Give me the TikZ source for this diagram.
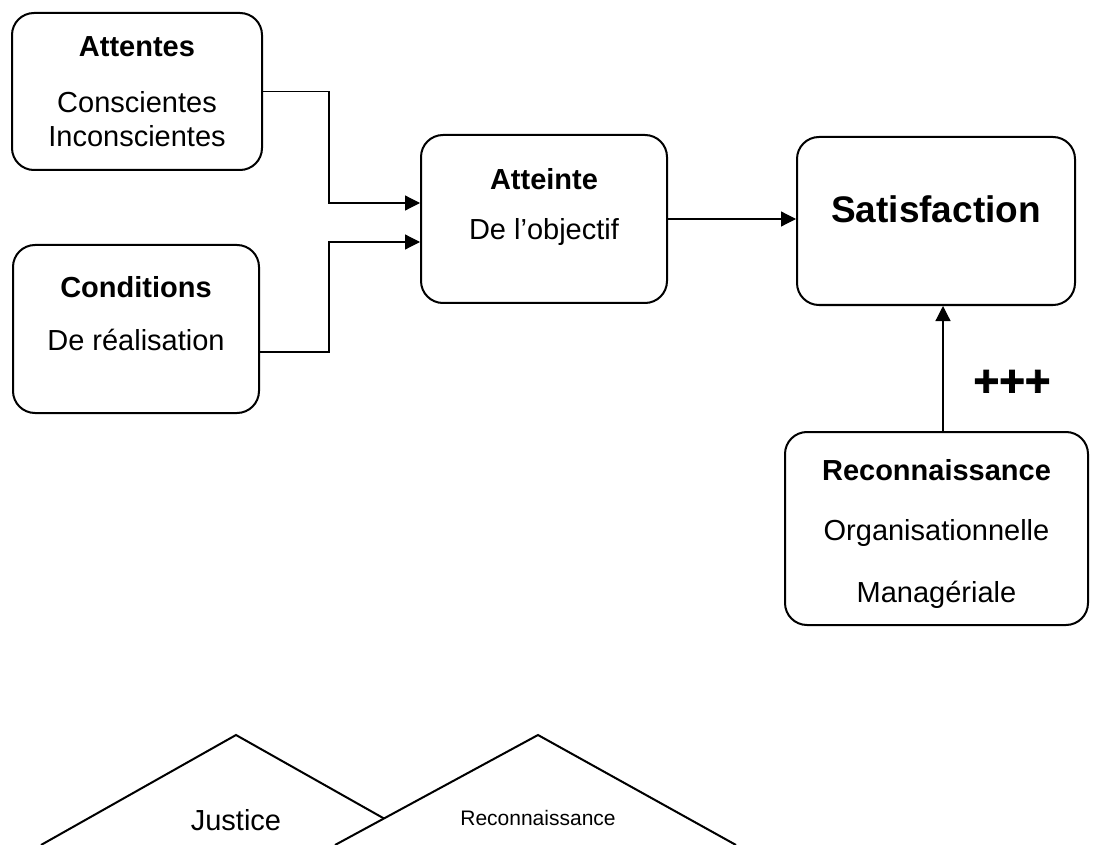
\documentclass[tikz,border=0pt]{standalone}
\usepackage{fontspec}
\setmainfont{Liberation Sans}
\newfontfamily\plusfont[FakeBold=2]{Liberation Sans}
\usetikzlibrary{arrows.meta}

\begin{document}
\begin{tikzpicture}[x=1pt,y=-1pt,
  box/.style={draw,line width=2pt,rounded corners=22pt,inner sep=0pt},
  conn/.style={line width=1.2pt,-{Triangle[length=15pt,width=15pt]}},
  txt/.style={anchor=base,inner sep=0pt,font=\fontsize{29}{34}\selectfont},
  btxt/.style={anchor=base,inner sep=0pt,font=\fontsize{29}{34}\selectfont\bfseries},
  tri/.style={line width=2pt,line join=miter}]
\useasboundingbox (0,0) rectangle (1101,845);

% rounded boxes
\node[box,minimum width=250pt,minimum height=157pt] (att) at (137,91.5) {};
\node[box,minimum width=246pt,minimum height=168pt] (cond) at (136,329) {};
\node[box,minimum width=246pt,minimum height=168pt] (atn) at (544,219) {};
\node[box,minimum width=278pt,minimum height=168pt] (sat) at (936,221) {};
\node[box,minimum width=303pt,minimum height=193pt] (rec) at (936.5,528.5) {};

% box labels
\node[btxt] (attT) at (137,57) {Attentes};
\node[txt] (attA) at (137,113) {Conscientes};
\node[txt] (attB) at (137,147) {Inconscientes};

\node[btxt] (condT) at (136,298) {Conditions};
\node[txt] (condA) at (136,350) {De réalisation};

\node[btxt] (atnT) at (544,190) {Atteinte};
\node[txt] (atnA) at (544,240) {De l’objectif};

\node[anchor=base,inner sep=0pt,font=\fontsize{37}{40}\selectfont\bfseries] (satT) at (936,223) {Satisfaction};

\node[btxt] (recT) at (936.5,480) {Reconnaissance};
\node[txt] (recA) at (936.5,540) {Organisationnelle};
\node[txt] (recB) at (936.5,602) {Managériale};

\node[inner sep=0pt,font=\plusfont\fontsize{44}{44}\selectfont\bfseries] (plus) at (1012,383) {+++};

% connectors
\coordinate (elbow) at (329,0);
\draw[conn] (att.east) -- (att.east -| elbow) |- ([yshift=16pt]atn.west);
\draw[conn] ([yshift=-23pt]cond.east) -- ([yshift=-23pt]cond.east -| elbow) |- ([yshift=-23pt]atn.west);
\draw[conn] (atn.east) -- (atn.east -| sat.west);
\draw[conn] ([xshift=6.5pt]rec.north) -- ([xshift=6.5pt]rec.north |- sat.south);

% overlapping roofs
\coordinate (japex) at (236,735);
\coordinate (jleft) at (41,845);
\coordinate (jright) at (431,845);
\coordinate (rapex) at (538,735);
\coordinate (rleft) at (335,845);
\coordinate (rright) at (736,845);
\draw[tri] (jleft) -- (japex) -- (intersection of japex--jright and rapex--rleft);
\draw[tri] (rleft) -- (rapex) -- (rright);

\node[txt] (just) at (236,830) {Justice};
\node[anchor=base,inner sep=0pt,font=\fontsize{21}{24}\selectfont] (recS) at (538,825) {Reconnaissance};
\end{tikzpicture}
\end{document}
